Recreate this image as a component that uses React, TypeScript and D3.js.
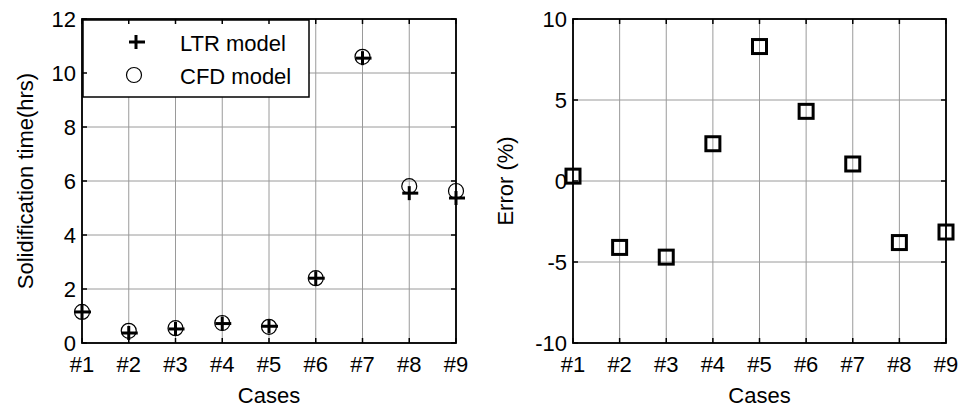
import React from "react";
import * as d3 from "d3";

const cases = ["#1", "#2", "#3", "#4", "#5", "#6", "#7", "#8", "#9"];
const ltrModel = [1.15, 0.37, 0.52, 0.72, 0.62, 2.4, 10.55, 5.55, 5.37];
const cfdModel = [1.15, 0.45, 0.55, 0.74, 0.6, 2.4, 10.6, 5.81, 5.63];
const errorPct = [0.3, -4.1, -4.7, 2.3, 8.3, 4.3, 1.05, -3.8, -3.15];
const leftTicks = [0, 2, 4, 6, 8, 10, 12];
const rightTicks = [-10, -5, 0, 5, 10];

const FONT = "'Liberation Sans', Arial, sans-serif";
const FS = 22;
const TOP = 19;
const BOTTOM = 343;

type PanelProps = {
  x0: number;
  x1: number;
  domain: [number, number];
  ticks: number[];
  yLabel: string;
  yLabelX: number;
  children: (x: d3.ScaleLinear<number, number>, y: d3.ScaleLinear<number, number>) => React.ReactNode;
};

function Panel({ x0, x1, domain, ticks, yLabel, yLabelX, children }: PanelProps) {
  const x = d3.scaleLinear().domain([0, cases.length - 1]).range([x0, x1]);
  const y = d3.scaleLinear().domain(domain).range([BOTTOM, TOP]);
  const tl = 5;
  return (
    <g>
      {/* grid */}
      {cases.map((_, i) => (
        <line key={"gx" + i} x1={x(i)} x2={x(i)} y1={TOP} y2={BOTTOM} stroke="#9a9a9a" strokeWidth={1} />
      ))}
      {ticks.map((t) => (
        <line key={"gy" + t} x1={x0} x2={x1} y1={y(t)} y2={y(t)} stroke="#9a9a9a" strokeWidth={1} />
      ))}
      {children(x, y)}
      {/* tick marks on all four sides */}
      {cases.map((_, i) => (
        <g key={"tx" + i}>
          <line x1={x(i)} x2={x(i)} y1={BOTTOM} y2={BOTTOM - tl} stroke="#000" strokeWidth={1.5} />
          <line x1={x(i)} x2={x(i)} y1={TOP} y2={TOP + tl} stroke="#000" strokeWidth={1.5} />
        </g>
      ))}
      {ticks.map((t) => (
        <g key={"ty" + t}>
          <line x1={x0} x2={x0 + tl} y1={y(t)} y2={y(t)} stroke="#000" strokeWidth={1.5} />
          <line x1={x1} x2={x1 - tl} y1={y(t)} y2={y(t)} stroke="#000" strokeWidth={1.5} />
        </g>
      ))}
      <rect x={x0} y={TOP} width={x1 - x0} height={BOTTOM - TOP} fill="none" stroke="#000" strokeWidth={1.8} />
      {/* tick labels */}
      {cases.map((c, i) => (
        <text key={"lx" + i} x={x(i)} y={BOTTOM + 29} textAnchor="middle" fontFamily={FONT} fontSize={FS}>
          {c}
        </text>
      ))}
      {ticks.map((t) => (
        <text key={"ly" + t} x={x0 - 6} y={y(t) + 8} textAnchor="end" fontFamily={FONT} fontSize={FS}>
          {t}
        </text>
      ))}
      <text x={(x0 + x1) / 2} y={BOTTOM + 60} textAnchor="middle" fontFamily={FONT} fontSize={FS}>
        Cases
      </text>
      <text
        transform={`translate(${yLabelX},${(TOP + BOTTOM) / 2}) rotate(-90)`}
        textAnchor="middle"
        fontFamily={FONT}
        fontSize={FS}
      >
        {yLabel}
      </text>
    </g>
  );
}

function Plus({ cx, cy }: { cx: number; cy: number }) {
  const s = 7;
  return (
    <g stroke="#000" strokeWidth={3}>
      <line x1={cx - s} x2={cx + s + 2} y1={cy} y2={cy} />
      <line x1={cx} x2={cx} y1={cy - s} y2={cy + s} />
    </g>
  );
}

export default function App() {
  return (
    <svg width={959} height={411} style={{ display: "block", position: "absolute", left: 0, top: 0, background: "#fff" }}>
      <Panel x0={82} x1={456} domain={[0, 12]} ticks={leftTicks} yLabel="Solidification time(hrs)" yLabelX={33}>
        {(x, y) => (
          <g>
            {cfdModel.map((v, i) => (
              <circle key={"c" + i} cx={x(i)} cy={y(v)} r={7.5} fill="none" stroke="#000" strokeWidth={1.2} />
            ))}
            {ltrModel.map((v, i) => (
              <Plus key={"p" + i} cx={x(i)} cy={y(v)} />
            ))}
            {/* legend */}
            <rect x={83} y={20} width={226} height={77} fill="#fff" stroke="#000" strokeWidth={1.5} />
            <Plus cx={136} cy={42} />
            <circle cx={134} cy={75} r={7.5} fill="none" stroke="#000" strokeWidth={1.2} />
            <text x={180} y={51} fontFamily={FONT} fontSize={FS}>LTR model</text>
            <text x={180} y={84} fontFamily={FONT} fontSize={FS}>CFD model</text>
          </g>
        )}
      </Panel>
      <Panel x0={573} x1={946} domain={[-10, 10]} ticks={rightTicks} yLabel="Error (%)" yLabelX={513}>
        {(x, y) => (
          <g>
            {errorPct.map((v, i) => (
              <rect
                key={"s" + i}
                x={x(i) - 7}
                y={y(v) - 7}
                width={14}
                height={14}
                fill="none"
                stroke="#000"
                strokeWidth={3}
              />
            ))}
          </g>
        )}
      </Panel>
    </svg>
  );
}
